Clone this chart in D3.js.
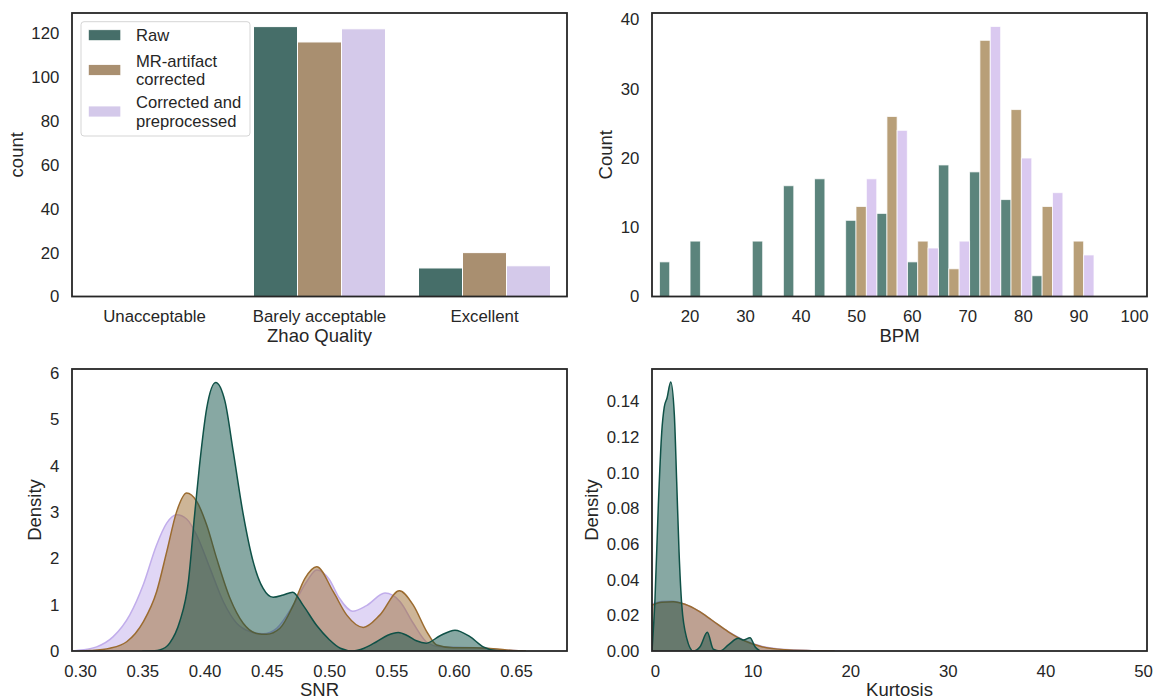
<!DOCTYPE html>
<html>
<head>
<meta charset="utf-8">
<script src="https://cdn.jsdelivr.net/npm/d3@7"></script>
<style>
  body { margin: 0; background: #fff; }
  svg text { font-family: "Liberation Sans", Arial, sans-serif; fill: #262626; }
</style>
</head>
<body>
<div id="chart"></div>
<script>
// ---- data ----
const seriesNames = ["Raw", "MR-artifact corrected", "Corrected and preprocessed"];

// Zhao quality counts
const zhaoCategories = ["Unacceptable", "Barely acceptable", "Excellent"];
const zhaoRaw = [0, 123, 13];
const zhaoMR = [0, 116, 20];
const zhaoCorr = [0, 122, 14];

// BPM histogram (shared bin edges, dodged)
const bpmEdges = [14.6, 20.1, 25.7, 31.3, 36.9, 42.5, 48.1, 53.7, 59.2, 64.8, 70.4, 76.0, 81.6, 87.2, 92.8];
const bpmRaw = [5, 8, 0, 8, 16, 17, 11, 12, 5, 19, 18, 14, 3, 0];
const bpmMR = [0, 0, 0, 0, 0, 0, 13, 26, 8, 4, 37, 27, 13, 8];
const bpmCorr = [0, 0, 0, 0, 0, 0, 17, 24, 7, 8, 39, 20, 15, 6];

// SNR density curves
const snrRawX = [0.350, 0.360, 0.364, 0.372, 0.380, 0.387, 0.392, 0.396, 0.4017, 0.4089, 0.4164, 0.423, 0.4311, 0.439, 0.447, 0.455, 0.4632, 0.4707, 0.479, 0.490, 0.500, 0.509, 0.519, 0.528, 0.538, 0.547, 0.5555, 0.563, 0.570, 0.578, 0.589, 0.601, 0.613, 0.6237, 0.634, 0.642];
const snrRawY = [0, 0.005, 0.02, 0.17, 0.63, 1.50, 2.94, 4.02, 5.24, 5.80, 5.39, 4.31, 2.94, 1.93, 1.35, 1.16, 1.21, 1.27, 0.99, 0.55, 0.25, 0.06, 0, 0.06, 0.20, 0.34, 0.40, 0.33, 0.22, 0.17, 0.33, 0.45, 0.31, 0.09, 0.01, 0];
const snrMRX = [0.300, 0.308, 0.324, 0.3375, 0.3508, 0.3615, 0.3696, 0.3776, 0.3856, 0.3937, 0.4017, 0.4097, 0.4204, 0.431, 0.4418, 0.4498, 0.4605, 0.4712, 0.4806, 0.490, 0.5033, 0.514, 0.5274, 0.5408, 0.5563, 0.5675, 0.5783, 0.5863, 0.5996, 0.6157, 0.6317, 0.6478, 0.658];
const snrMRY = [0, 0.01, 0.06, 0.20, 0.63, 1.28, 2.14, 3.01, 3.41, 3.23, 2.72, 2.00, 1.14, 0.60, 0.38, 0.36, 0.49, 0.99, 1.57, 1.82, 1.28, 0.78, 0.51, 0.78, 1.30, 0.99, 0.42, 0.13, 0.07, 0.07, 0.05, 0.01, 0];
const snrCorrX = [0.293, 0.2974, 0.3134, 0.3267, 0.340, 0.3508, 0.3615, 0.3696, 0.3776, 0.3856, 0.3937, 0.4043, 0.415, 0.4258, 0.4364, 0.447, 0.4579, 0.4712, 0.482, 0.490, 0.500, 0.508, 0.519, 0.530, 0.5448, 0.5568, 0.5675, 0.578, 0.589, 0.600, 0.620, 0.640, 0.655];
const snrCorrY = [0, 0.01, 0.09, 0.31, 0.78, 1.43, 2.29, 2.76, 2.94, 2.85, 2.50, 1.79, 1.07, 0.60, 0.42, 0.37, 0.49, 0.99, 1.50, 1.75, 1.55, 1.15, 0.86, 0.98, 1.25, 1.07, 0.60, 0.20, 0.09, 0.08, 0.07, 0.02, 0];

// Kurtosis density curves
const kurtRawX = [-0.31, 0, 0.34, 0.69, 0.95, 1.23, 1.61, 1.98, 2.22, 2.46, 2.74, 3.25, 3.92, 4.61, 5.36, 5.97, 6.66, 7.51, 8.53, 9.05, 9.73, 10.25, 10.76];
const kurtRawY = [0, 0.0296, 0.082, 0.123, 0.137, 0.142, 0.151, 0.1325, 0.095, 0.0558, 0.0258, 0.0071, 0, 0.0024, 0.0105, 0.001, 0, 0.0034, 0.0071, 0.0062, 0.0075, 0.0024, 0];
const kurtMRX = [-0.31, 0.69, 1.88, 3.07, 4.44, 5.81, 7.51, 9.22, 10.93, 13.32, 16.06, 18.4];
const kurtMRY = [0.0258, 0.0273, 0.0277, 0.0262, 0.0225, 0.0174, 0.0108, 0.0056, 0.0024, 0.0007, 0.0002, 0];
const kurtCorrX = [-0.31, 0.7, 1.72, 3.05, 4.49, 5.82, 7.56, 9.3, 11.0, 13.4, 16.1, 19.0];
const kurtCorrY = [0.0264, 0.0278, 0.0279, 0.0263, 0.0224, 0.0172, 0.0107, 0.0056, 0.0025, 0.0008, 0.0002, 0];

// tick values
const zhaoTicks = [0, 20, 40, 60, 80, 100, 120];
const bpmXTicks = [20, 30, 40, 50, 60, 70, 80, 90, 100];
const bpmYTicks = [0, 10, 20, 30, 40];
const snrXTicks = [0.30, 0.35, 0.40, 0.45, 0.50, 0.55, 0.60, 0.65];
const snrYTicks = [0, 1, 2, 3, 4, 5, 6];
const kurtXTicks = [0, 10, 20, 30, 40, 50];
const kurtYTicks = [0, 0.02, 0.04, 0.06, 0.08, 0.10, 0.12, 0.14];

// ---- styling ----
const W = 1153, H = 700;
const barColors = ["#466e69", "#a98f70", "#d4c9ea"];
const histColors = ["#5b847c", "#b89f78", "#dac9f0"];
const kdeColors = ["#0f5147", "#9b6b2f", "#c1adeb"];
const tickFont = 16.8, labelFont = 18.5;

const svg = d3.select("#chart").append("svg")
    .attr("width", W).attr("height", H);

const panels = {
    tl: { x0: 72, x1: 567, y0: 13, y1: 296.5 },
    tr: { x0: 652, x1: 1147, y0: 13, y1: 296.5 },
    bl: { x0: 72, x1: 567, y0: 369, y1: 651 },
    br: { x0: 652, x1: 1147, y0: 369, y1: 651 }
};

function drawAxes(p, x, y, xTicks, yTicks, xFmt, yFmt, xLabel, yLabel) {
    const g = svg.append("g");
    g.append("g")
        .attr("transform", `translate(0,${p.y1})`)
        .call(d3.axisBottom(x).tickValues(xTicks).tickSize(0).tickPadding(14).tickFormat(xFmt));
    const ya = g.append("g")
        .attr("transform", `translate(${p.x0},0)`)
        .call(d3.axisLeft(y).tickValues(yTicks).tickSize(0).tickPadding(12.7).tickFormat(yFmt));
    g.selectAll(".domain").remove();
    g.selectAll(".tick text").style("font-size", tickFont + "px").attr("fill", "#262626");

    let minLeft = p.x0;
    ya.selectAll(".tick text").each(function () {
        const b = this.getBBox();
        const ctm = this.parentNode.getCTM();
        minLeft = Math.min(minLeft, b.x + ctm.e);
    });

    g.append("text")
        .attr("x", (p.x0 + p.x1) / 2)
        .attr("y", p.y1 + 45)
        .attr("text-anchor", "middle")
        .style("font-size", labelFont + "px")
        .text(xLabel);
    g.append("text")
        .attr("transform", `translate(${minLeft - 8.5},${(p.y0 + p.y1) / 2}) rotate(-90)`)
        .attr("text-anchor", "middle")
        .style("font-size", labelFont + "px")
        .text(yLabel);
}

function drawFrame(p) {
    svg.append("rect")
        .attr("x", p.x0).attr("y", p.y0)
        .attr("width", p.x1 - p.x0).attr("height", p.y1 - p.y0)
        .attr("fill", "none")
        .attr("stroke", "#262626")
        .attr("stroke-width", 1.8);
}

function clipFor(id, p) {
    svg.append("clipPath").attr("id", id)
        .append("rect")
        .attr("x", p.x0).attr("y", p.y0)
        .attr("width", p.x1 - p.x0).attr("height", p.y1 - p.y0);
    return `url(#${id})`;
}

// ---- top left: Zhao quality countplot ----
{
    const p = panels.tl;
    const x = d3.scaleBand().domain(zhaoCategories).range([p.x0, p.x1]).paddingInner(0).paddingOuter(0);
    const inner = d3.scaleBand().domain(seriesNames).range([0, x.bandwidth() * 0.8]);
    const y = d3.scaleLinear().domain([0, 129.2]).range([p.y1, p.y0]);
    const series = [zhaoRaw, zhaoMR, zhaoCorr];

    series.forEach((vals, si) => {
        svg.append("g").selectAll("rect")
            .data(vals)
            .join("rect")
            .attr("x", (d, i) => x(zhaoCategories[i]) + x.bandwidth() * 0.1 + inner(seriesNames[si]))
            .attr("y", d => y(d))
            .attr("width", inner.bandwidth())
            .attr("height", d => y(0) - y(d))
            .attr("fill", barColors[si])
            .attr("stroke", "#fff")
            .attr("stroke-width", 1);
    });

    drawAxes(p, x, y, zhaoCategories, zhaoTicks, d => d, d3.format("d"), "Zhao Quality", "count");
    drawFrame(p);

    // legend
    const lg = svg.append("g");
    lg.append("rect")
        .attr("x", 81).attr("y", 21.7).attr("width", 169).attr("height", 114.3)
        .attr("rx", 3)
        .attr("fill", "#fff").attr("fill-opacity", 0.85)
        .attr("stroke", "#d5d5d5").attr("stroke-width", 1);
    const legendRows = [
        { lines: ["Raw"], cy: 35.2 },
        { lines: ["MR-artifact", "corrected"], cy: 70 },
        { lines: ["Corrected and", "preprocessed"], cy: 111.5 }
    ];
    legendRows.forEach((row, i) => {
        lg.append("rect")
            .attr("x", 88.3).attr("y", row.cy - 5.5)
            .attr("width", 32.5).attr("height", 11)
            .attr("fill", barColors[i])
            .attr("stroke", "#fff").attr("stroke-width", 0.8);
        const n = row.lines.length;
        row.lines.forEach((t, j) => {
            lg.append("text")
                .attr("x", 136)
                .attr("y", row.cy + (j - (n - 1) / 2) * 18.3)
                .attr("dy", "0.36em")
                .style("font-size", "16.6px")
                .text(t);
        });
    });
}

// ---- top right: BPM histogram ----
{
    const p = panels.tr;
    const x = d3.scaleLinear().domain([13.25, 102.34]).range([p.x0, p.x1]);
    const y = d3.scaleLinear().domain([0, 40.95]).range([p.y1, p.y0]);
    const series = [bpmRaw, bpmMR, bpmCorr];
    const bins = d3.range(bpmEdges.length - 1);

    series.forEach((vals, si) => {
        svg.append("g").selectAll("rect")
            .data(bins.filter(k => vals[k] > 0))
            .join("rect")
            .attr("x", k => x(bpmEdges[k] + (bpmEdges[k + 1] - bpmEdges[k]) * si / 3))
            .attr("width", k => (x(bpmEdges[k + 1]) - x(bpmEdges[k])) / 3)
            .attr("y", k => y(vals[k]))
            .attr("height", k => y(0) - y(vals[k]))
            .attr("fill", histColors[si])
            .attr("stroke", "#fff")
            .attr("stroke-opacity", 0.75)
            .attr("stroke-width", 1);
    });

    drawAxes(p, x, y, bpmXTicks, bpmYTicks, d3.format("d"), d3.format("d"), "BPM", "Count");
    drawFrame(p);
}

// ---- density panels ----
function drawKde(p, clipId, x, y, curves) {
    const clip = clipFor(clipId, p);
    const g = svg.append("g").attr("clip-path", clip);
    const area = d3.area()
        .x(d => x(d[0])).y0(y(0)).y1(d => y(d[1]))
        .curve(d3.curveMonotoneX);
    const line = d3.line()
        .x(d => x(d[0])).y(d => y(d[1]))
        .curve(d3.curveMonotoneX);
    // last series first so Raw ends on top
    for (let si = curves.length - 1; si >= 0; si--) {
        const pts = d3.zip(curves[si][0], curves[si][1]);
        g.append("path").datum(pts)
            .attr("d", area)
            .attr("fill", kdeColors[si])
            .attr("fill-opacity", 0.5);
        g.append("path").datum(pts)
            .attr("d", line)
            .attr("fill", "none")
            .attr("stroke", kdeColors[si])
            .attr("stroke-width", 1.5);
    }
}

{
    const p = panels.bl;
    const x = d3.scaleLinear().domain([0.2936, 0.6909]).range([p.x0, p.x1]);
    const y = d3.scaleLinear().domain([0, 6.09]).range([p.y1, p.y0]);
    drawKde(p, "clip-snr", x, y, [[snrRawX, snrRawY], [snrMRX, snrMRY], [snrCorrX, snrCorrY]]);
    drawAxes(p, x, y, snrXTicks, snrYTicks, d3.format(".2f"), d3.format("d"), "SNR", "Density");
    drawFrame(p);
}

{
    const p = panels.br;
    const x = d3.scaleLinear().domain([-0.31, 50.41]).range([p.x0, p.x1]);
    const y = d3.scaleLinear().domain([0, 0.1583]).range([p.y1, p.y0]);
    drawKde(p, "clip-kurt", x, y, [[kurtRawX, kurtRawY], [kurtMRX, kurtMRY], [kurtCorrX, kurtCorrY]]);
    drawAxes(p, x, y, kurtXTicks, kurtYTicks, d3.format("d"), d3.format(".2f"), "Kurtosis", "Density");
    drawFrame(p);
}
</script>
</body>
</html>
